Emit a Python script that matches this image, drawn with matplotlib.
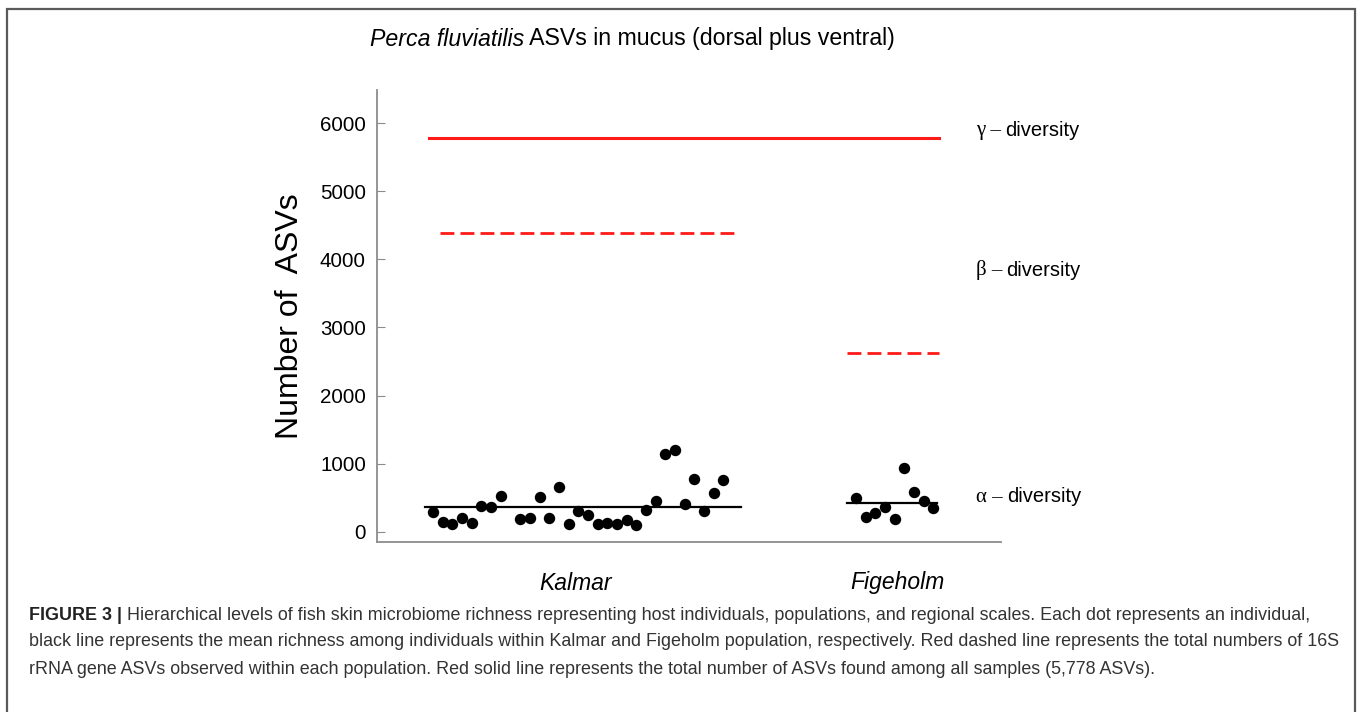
import matplotlib
matplotlib.use("Agg")
import matplotlib.pyplot as plt
from matplotlib.patches import Rectangle

plt.rcParams["font.family"] = ["Liberation Sans", "DejaVu Sans"]

# richness per individual (ASVs)
kalmar_pos = [0, 1, 2, 3, 4, 5, 6, 7, 9, 10, 11, 12, 13, 14, 15, 16, 17, 18, 19, 20,
              21, 22, 23, 24, 25, 26, 27, 28, 29, 30]
kalmar_asvs = [294, 138, 113, 201, 128, 378, 363, 520, 182, 206, 505, 201, 657, 113,
               309, 241, 113, 132, 109, 167, 98, 319, 455, 1141, 1196, 403, 770, 304,
               573, 755]
figeholm_pos = [0, 1, 2, 3, 4, 5, 6, 7, 8]
figeholm_asvs = [491, 220, 270, 367, 182, 931, 588, 455, 344]

kalmar_mean = 360
figeholm_mean = 426
kalmar_total = 4393
figeholm_total = 2621
gamma_total = 5778

populations = ["Kalmar", "Figeholm"]
yticks = [0, 1000, 2000, 3000, 4000, 5000, 6000]

W, H = 1358, 712
fig = plt.figure(figsize=(W / 100, H / 100), dpi=100)


def fx(px):
    return px / W


def fy(py):
    return 1 - py / H


# panel frame
fig.patches.append(Rectangle((fx(7), fy(740)), fx(1348), (740 - 9) / H,
                             transform=fig.transFigure, fill=False,
                             edgecolor="#5a5a5a", lw=1.6))

ax = fig.add_axes([fx(377), fy(541.7), fx(1001 - 377), (541.7 - 90) / H])

k_x0, f_x0 = 5.8, 49.5
ax.plot([k_x0 + p for p in kalmar_pos], kalmar_asvs, "o", color="black", ms=7.2)
ax.plot([f_x0 + p for p in figeholm_pos], figeholm_asvs, "o", color="black", ms=7.2)

ax.plot([5.0, 37.6], [kalmar_mean, kalmar_mean], color="black", lw=1.6)
ax.plot([48.6, 57.9], [figeholm_mean, figeholm_mean], color="black", lw=1.6)

ax.plot([6.5, 37.2], [kalmar_total, kalmar_total], color="#ff1a1a", lw=2,
        dashes=(5, 2.2))
ax.plot([48.6, 58.1], [figeholm_total, figeholm_total], color="#ff1a1a", lw=2,
        dashes=(5, 2.2))
ax.plot([5.4, 58.1], [gamma_total, gamma_total], color="#ff1a1a", lw=2.2)

ax.set_xlim(0, 64.5)
ax.set_ylim(-147, 6489)
ax.set_yticks(yticks)
ax.set_yticklabels([str(t) for t in yticks], fontsize=14.8)
ax.set_xticks([])
for s in ["top", "right"]:
    ax.spines[s].set_visible(False)
for s in ["left", "bottom"]:
    ax.spines[s].set_color("#8c8c8c")
    ax.spines[s].set_linewidth(1.3)
ax.tick_params(axis="y", direction="in", length=6, color="#8c8c8c", pad=8)
ax.set_ylabel("Number of  ASVs", fontsize=23, labelpad=11)

for name, px in zip(populations, [576, 897]):
    fig.text(fx(px), fy(583), name, fontsize=16.5, style="italic",
             ha="center", va="center")

renderer = fig.canvas.get_renderer()

# title with italic species name
t1 = fig.text(fx(370), fy(39), "Perca fluviatilis", fontsize=16.7, style="italic",
              va="center")
bb = t1.get_window_extent(renderer)
fig.text(bb.x1 / W, fy(39), " ASVs in mucus (dorsal plus ventral)", fontsize=16.7,
         va="center")

# diversity labels
for sym, py in [("\u03b3", 131), ("\u03b2", 270), ("\u03b1", 497)]:
    g = fig.text(fx(976), fy(py), sym + " \u2013", fontsize=15,
                 family="Liberation Serif", va="center")
    gb = g.get_window_extent(renderer)
    fig.text(gb.x1 / W + 0.003, fy(py), "diversity", fontsize=14.5, va="center")

# caption
cap = [
    " Hierarchical levels of fish skin microbiome richness representing host individuals, "
    "populations, and regional scales. Each dot represents an individual,",
    "black line represents the mean richness among individuals within Kalmar and Figeholm "
    "population, respectively. Red dashed line represents the total numbers of 16S",
    "rRNA gene ASVs observed within each population. Red solid line represents the total "
    "number of ASVs found among all samples (5,778 ASVs).",
]
cs = 12.9
c0 = fig.text(fx(29), fy(615), "FIGURE 3 |", fontsize=cs, weight="bold",
              va="center", color="#222222")
cb = c0.get_window_extent(renderer)
fig.text(cb.x1 / W, fy(615), cap[0], fontsize=cs, va="center", color="#333333")
fig.text(fx(29), fy(642), cap[1], fontsize=cs, va="center", color="#333333")
fig.text(fx(29), fy(669), cap[2], fontsize=cs, va="center", color="#333333")

fig.savefig("out.png", dpi=100)
